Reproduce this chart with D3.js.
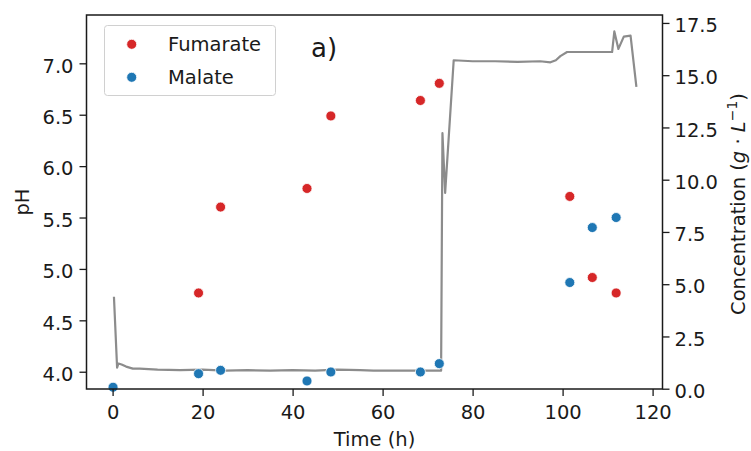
<!DOCTYPE html>
<html>
<head>
<meta charset="utf-8">
<script src="https://cdn.jsdelivr.net/npm/d3@7/dist/d3.min.js"></script>
<style>
  html, body { margin: 0; padding: 0; background: #fff; }
  svg { display: block; font-family: "DejaVu Sans", sans-serif; }
</style>
</head>
<body>
<svg id="chart" width="751" height="451"></svg>
<script>
// ---- data ----
const fumarateTime = [19.1, 24.0, 43.2, 48.5, 68.4, 72.6, 101.6, 106.6, 111.9];
const fumarateConc = [4.58, 8.69, 9.58, 13.05, 13.79, 14.61, 9.2, 5.32, 4.58];
const malateTime = [0.1, 19.1, 24.0, 43.2, 48.5, 68.4, 72.6, 101.6, 106.6, 111.9];
const malateConc = [0.07, 0.72, 0.88, 0.37, 0.8, 0.8, 1.2, 5.08, 7.71, 8.19];
const phTime = [0.3, 1.0, 1.3, 2.0, 3.0, 4.5, 6, 10, 15, 20, 25, 30, 35, 40, 45, 50, 55, 58, 65, 70, 73.0,
                73.3, 73.9, 75.8, 80, 85, 90, 95, 97.3, 98.5, 99.5, 101, 105, 111.0, 111.5, 112.4, 113.6, 115.1, 116.4];
const phValue = [4.73, 4.04, 4.08, 4.07, 4.05, 4.03, 4.03, 4.02, 4.015, 4.02, 4.01, 4.015, 4.01, 4.015, 4.01, 4.02, 4.015, 4.01, 4.01, 4.01, 4.01,
                 6.32, 5.74, 7.03, 7.02, 7.02, 7.015, 7.02, 7.01, 7.03, 7.07, 7.11, 7.11, 7.11, 7.31, 7.14, 7.26, 7.27, 6.77];
const xTicks = [0, 20, 40, 60, 80, 100, 120];
const phTicks = [4.0, 4.5, 5.0, 5.5, 6.0, 6.5, 7.0];
const concTicks = [0, 2.5, 5, 7.5, 10, 12.5, 15, 17.5];
const seriesNames = ["Fumarate", "Malate"];
const seriesColors = ["#d62728", "#1f77b4"];

// ---- layout ----
const L = 86.5, R = 662.5, T = 15, B = 389;
const FS = 19.5;
const textColor = "#1a1a1a";

const svg = d3.select("#chart");
const x = d3.scaleLinear().domain([-5.8, 122.2]).range([L, R]);
const yPH = d3.scaleLinear().domain([3.832, 7.47]).range([B, T]);
const yC = d3.scaleLinear().domain([-0.014, 17.88]).range([B, T]);

// pH line
const line = d3.line().x(d => x(d[0])).y(d => yPH(d[1]));
svg.append("path")
  .datum(phTime.map((t, i) => [t, phValue[i]]))
  .attr("d", line)
  .attr("fill", "none")
  .attr("stroke", "#8c8c8c")
  .attr("stroke-width", 2.2)
  .attr("stroke-linejoin", "round");

// scatter
function scatter(times, vals, color) {
  svg.append("g").selectAll("circle")
    .data(times.map((t, i) => [t, vals[i]]))
    .join("circle")
    .attr("cx", d => x(d[0]))
    .attr("cy", d => yC(d[1]))
    .attr("r", 5)
    .attr("fill", color)
    .attr("stroke", "#fff")
    .attr("stroke-width", 0.8);
}
scatter(fumarateTime, fumarateConc, seriesColors[0]);
scatter(malateTime, malateConc, seriesColors[1]);

// axes
function styleAxis(g) {
  g.select(".domain").remove();
  g.selectAll(".tick line").attr("stroke", textColor).attr("stroke-width", 1.3);
  g.selectAll(".tick text").attr("fill", textColor).attr("font-size", FS).attr("font-family", "DejaVu Sans");
}
const gx = svg.append("g").attr("transform", `translate(0,${B})`)
  .call(d3.axisBottom(x).tickValues(xTicks).tickSize(7).tickPadding(9).tickFormat(d3.format("d")));
styleAxis(gx);
gx.selectAll(".tick text").attr("dy", "0.73em");

const gl = svg.append("g").attr("transform", `translate(${L},0)`)
  .call(d3.axisLeft(yPH).tickValues(phTicks).tickSize(7).tickPadding(6).tickFormat(d3.format(".1f")));
styleAxis(gl);
gl.selectAll(".tick text").attr("dy", "0.45em");

const gr = svg.append("g").attr("transform", `translate(${R},0)`)
  .call(d3.axisRight(yC).tickValues(concTicks).tickSize(7).tickPadding(5).tickFormat(d3.format(".1f")));
styleAxis(gr);
gr.selectAll(".tick text").attr("dy", "0.45em");

// frame
svg.append("rect")
  .attr("x", L).attr("y", T).attr("width", R - L).attr("height", B - T)
  .attr("fill", "none").attr("stroke", textColor).attr("stroke-width", 1.5);

// axis labels
svg.append("text")
  .attr("x", (L + R) / 2).attr("y", 446)
  .attr("text-anchor", "middle").attr("font-size", FS).attr("fill", textColor)
  .text("Time (h)");

svg.append("text")
  .attr("transform", `translate(29,${(T + B) / 2}) rotate(-90)`)
  .attr("text-anchor", "middle").attr("font-size", FS).attr("fill", textColor)
  .text("pH");

const rl = svg.append("text")
  .attr("transform", `translate(745,${(T + B) / 2 + 2}) rotate(-90)`)
  .attr("text-anchor", "middle").attr("font-size", FS).attr("fill", textColor);
rl.append("tspan").text("Concentration (");
rl.append("tspan").attr("font-style", "italic").text("g");
rl.append("tspan").text(" · ");
rl.append("tspan").attr("font-style", "italic").text("L");
rl.append("tspan").attr("font-size", 14).attr("dy", -8).text("−1");
rl.append("tspan").attr("dy", 8).text(")");

// panel label
svg.append("text")
  .attr("x", 311).attr("y", 57)
  .attr("font-size", 26).attr("fill", textColor)
  .text("a)");

// legend
const lg = svg.append("g");
lg.append("rect")
  .attr("x", 104.5).attr("y", 25.5).attr("width", 171).attr("height", 70)
  .attr("rx", 3).attr("fill", "#fff").attr("fill-opacity", 0.8)
  .attr("stroke", "#d0d0d0").attr("stroke-width", 1);
const legY = [44.3, 77.3];
seriesNames.forEach((name, i) => {
  lg.append("circle").attr("cx", 131.7).attr("cy", legY[i]).attr("r", 5)
    .attr("fill", seriesColors[i]).attr("stroke", "#fff").attr("stroke-width", 0.8);
  lg.append("text").attr("x", 168).attr("y", legY[i] + 7)
    .attr("font-size", FS).attr("fill", textColor).text(name);
});
</script>
</body>
</html>
